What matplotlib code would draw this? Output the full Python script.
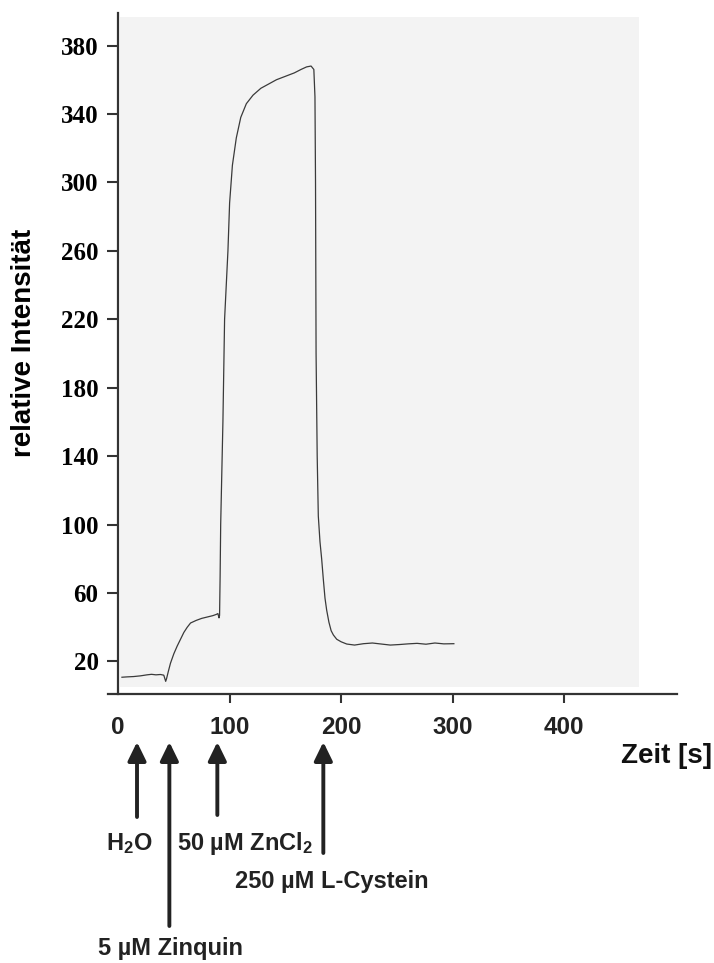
import matplotlib
matplotlib.use("Agg")
from matplotlib import pyplot as plt
from matplotlib.patches import Rectangle

plt.rcParams['font.family'] = ['Liberation Sans', 'DejaVu Sans']
plt.rcParams['mathtext.fontset'] = 'custom'
plt.rcParams['mathtext.rm'] = 'Liberation Sans:bold'
plt.rcParams['mathtext.it'] = 'Liberation Sans:bold'
plt.rcParams['mathtext.bf'] = 'Liberation Sans:bold'

# Fluoreszenzverlauf (Schreiberspur)
zeit = [3.5, 8, 14, 20, 26, 30, 34, 38, 41, 42.7,
        43.5, 45, 47, 50, 53, 56, 59, 62, 65, 70, 75, 80, 85, 88, 89.5, 90.5,
        91, 91.5, 92, 94, 95.5, 98.5, 100, 102.5, 106, 110, 115, 121, 128, 135,
        142, 150, 158, 164, 169, 173, 175.5,
        176.5, 177, 177.5, 178.5, 179.5, 181, 182.5, 184, 185.5, 187, 189, 191,
        193, 196, 200, 205, 212, 220, 228, 236, 244, 252, 260, 268, 276, 284,
        292, 301]
intensitaet = [10.8, 11, 11.2, 11.6, 12.2, 12.5, 12.2, 12.4, 12, 8.4,
               10, 14, 19, 24.5, 29, 33, 37, 40, 42.5, 44, 45.2, 46, 46.8, 47.5, 48, 45.5,
               47, 70, 100, 160, 220, 260, 288, 310, 326, 338, 346, 351, 355, 357.5,
               360, 362, 364, 366, 367.5, 368, 366,
               350, 300, 200, 140, 105, 90, 80, 68, 57, 50, 43, 38,
               35.5, 33, 31.5, 30.2, 29.6, 30.4, 30.8, 30.2, 29.6, 29.9, 30.3, 30.6, 30.1, 30.8,
               30.3, 30.4]

# Zugaben
zugabe_zeit = [17, 46, 89, 184]
zugabe_text = ['H$_2$O', '5 µM Zinquin', '50 µM ZnCl$_2$', '250 µM L-Cystein']

y_ticks = [20, 60, 100, 140, 180, 220, 260, 300, 340, 380]
x_ticks = [0, 100, 200, 300, 400]

W, H = 714, 963


def fy(py):
    # Pixel von oben -> Figurenbruchteil
    return 1 - py / H


fig = plt.figure(figsize=(W / 100, H / 100), dpi=100)
ax = fig.add_axes([108 / W, fy(694), (677 - 108) / W, (694 - 13) / H])
ax.set_xlim(-9, 501)
ax.set_ylim(1, 399)

# Papierhintergrund des Scans
ax.add_patch(Rectangle((1.8, 4.8), 465, 392, facecolor='#f3f3f3', edgecolor='none', zorder=0))

ax.plot(zeit, intensitaet, color='#3a3a3a', lw=0.9, zorder=2)

for s in ['top', 'right']:
    ax.spines[s].set_visible(False)
ax.spines['left'].set_position(('data', 0))
for s in ['left', 'bottom']:
    ax.spines[s].set_color('#333333')
    ax.spines[s].set_linewidth(1.6)

ax.set_yticks(y_ticks)
ax.set_yticklabels([str(v) for v in y_ticks], family='Liberation Serif', fontweight='bold', fontsize=18)
ax.tick_params(axis='y', direction='out', length=8, width=1.5, color='#333333', pad=6)

ax.set_xticks(x_ticks)
ax.set_xticklabels([str(v) for v in x_ticks], fontweight='bold', fontsize=17.5, color='#222222')
ax.tick_params(axis='x', direction='out', length=6.5, width=1.5, color='#333333', pad=9)
ax.xaxis.get_major_ticks()[0].tick1line.set_visible(False)

fig.text(24 / W, fy(343), 'relative Intensität', rotation=90, ha='center', va='center',
         fontsize=20, fontweight='bold')
fig.text(712 / W, fy(763), 'Zeit [s]', ha='right', va='baseline',
         fontsize=20, fontweight='bold', color='#111111')

# Pfeile unter der Zeitachse
pfeil_ende = [817, 926, 815, 853]
for x, py in zip(zugabe_zeit, pfeil_ende):
    ax.annotate('', xy=(x, fy(742)), xytext=(x, fy(py)),
                xycoords=('data', 'figure fraction'), textcoords=('data', 'figure fraction'),
                arrowprops=dict(arrowstyle='-|>,head_length=0.45,head_width=0.22', lw=2.8,
                                color='#222222', mutation_scale=25, shrinkA=0, shrinkB=0),
                annotation_clip=False)

text_pos = [(10, 850, 'center'), (46.6, 955, 'center'), (52.9, 850, 'left'), (105, 888, 'left')]
for txt, (x, py, ha) in zip(zugabe_text, text_pos):
    ax.annotate(txt, xy=(x, fy(py)), xycoords=('data', 'figure fraction'),
                ha=ha, va='baseline', fontsize=17, fontweight='bold', color='#222222',
                annotation_clip=False)

fig.savefig('out.png', dpi=100, facecolor='white')
